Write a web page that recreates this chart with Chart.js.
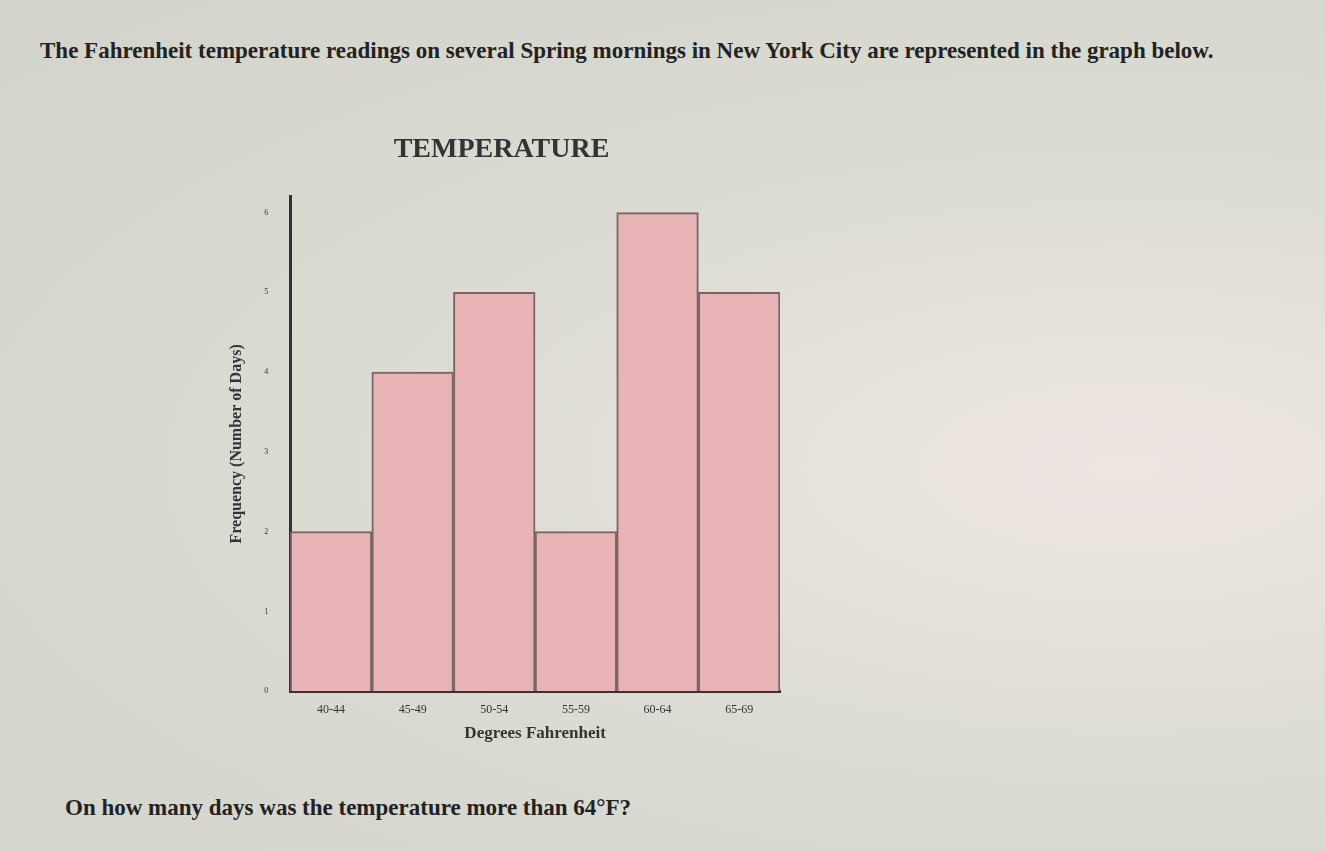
<!DOCTYPE html>
<html>
<head>
<meta charset="utf-8">
<script src="https://cdn.jsdelivr.net/npm/chart.js"></script>
<style>
  body { margin:0; width:1325px; height:851px; overflow:hidden;
         background: radial-gradient(ellipse at 85% 55%, #efe6e2 0%, #dcdcd4 45%, #d2d3cb 100%);
         font-family: "Liberation Serif", "DejaVu Serif", serif; color:#222; }
  #q1 { position:absolute; left:40px; top:38px; width:1250px; font-size:23px; font-weight:bold; line-height:25px; }
  #q2 { position:absolute; left:65px; top:795px; font-size:23px; font-weight:bold; }
  #wrap { position:absolute; left:223px; top:128px; width:597px; height:620px; }
</style>
</head>
<body>
<div id="q1">The Fahrenheit temperature readings on several Spring mornings in New York City are represented in the graph below.</div>
<div id="wrap"><canvas id="myChart"></canvas></div>
<div id="q2">On how many days was the temperature more than 64°F?</div>
<script>
  const categories = ['40-44', '45-49', '50-54', '55-59', '60-64', '65-69'];
  const days = [2, 4, 5, 2, 6, 5];
  const yTicks = [0, 1, 2, 3, 4, 5, 6];

  const ctx = document.getElementById('myChart').getContext('2d');
  new Chart(ctx, {
    type: 'bar',
    data: {
      labels: categories,
      datasets: [{
        data: days,
        backgroundColor: '#e8b3b6',
        borderColor: '#7d6464',
        borderWidth: 2,
        categoryPercentage: 1,
        barPercentage: 1
      }]
    },
    options: {
      responsive: true,
      maintainAspectRatio: false,
      animation: false,
      layout: { padding: { right: 40, top: 0 } },
      plugins: {
        legend: { display: false },
        tooltip: { enabled: false },
        title: { display: true, text: 'TEMPERATURE', color: '#333',
                 font: { family: 'Liberation Serif', size: 28 }, padding: { top: 5, bottom: 30 } }
      },
      scales: {
        x: {
          grid: { display: false },
          border: { color: '#333', width: 3 },
          ticks: { color: '#333', font: { family: 'Liberation Serif', size: 12 } },
          title: { display: true, text: 'Degrees Fahrenheit', color: '#333',
                   font: { family: 'Liberation Serif', size: 17, weight: 'bold' } }
        },
        y: {
          min: 0, max: 6.2,
          afterBuildTicks: s => { s.ticks = yTicks.map(v => ({ value: v })); },
          grid: { display: false },
          border: { color: '#333', width: 3 },
          ticks: { color: '#333', padding: 14, font: { family: 'Liberation Serif', size: 8 } },
          title: { display: true, text: 'Frequency (Number of Days)', color: '#333',
                   font: { family: 'Liberation Serif', size: 16, weight: 'bold' } }
        }
      }
    }
  });
</script>
</body>
</html>
